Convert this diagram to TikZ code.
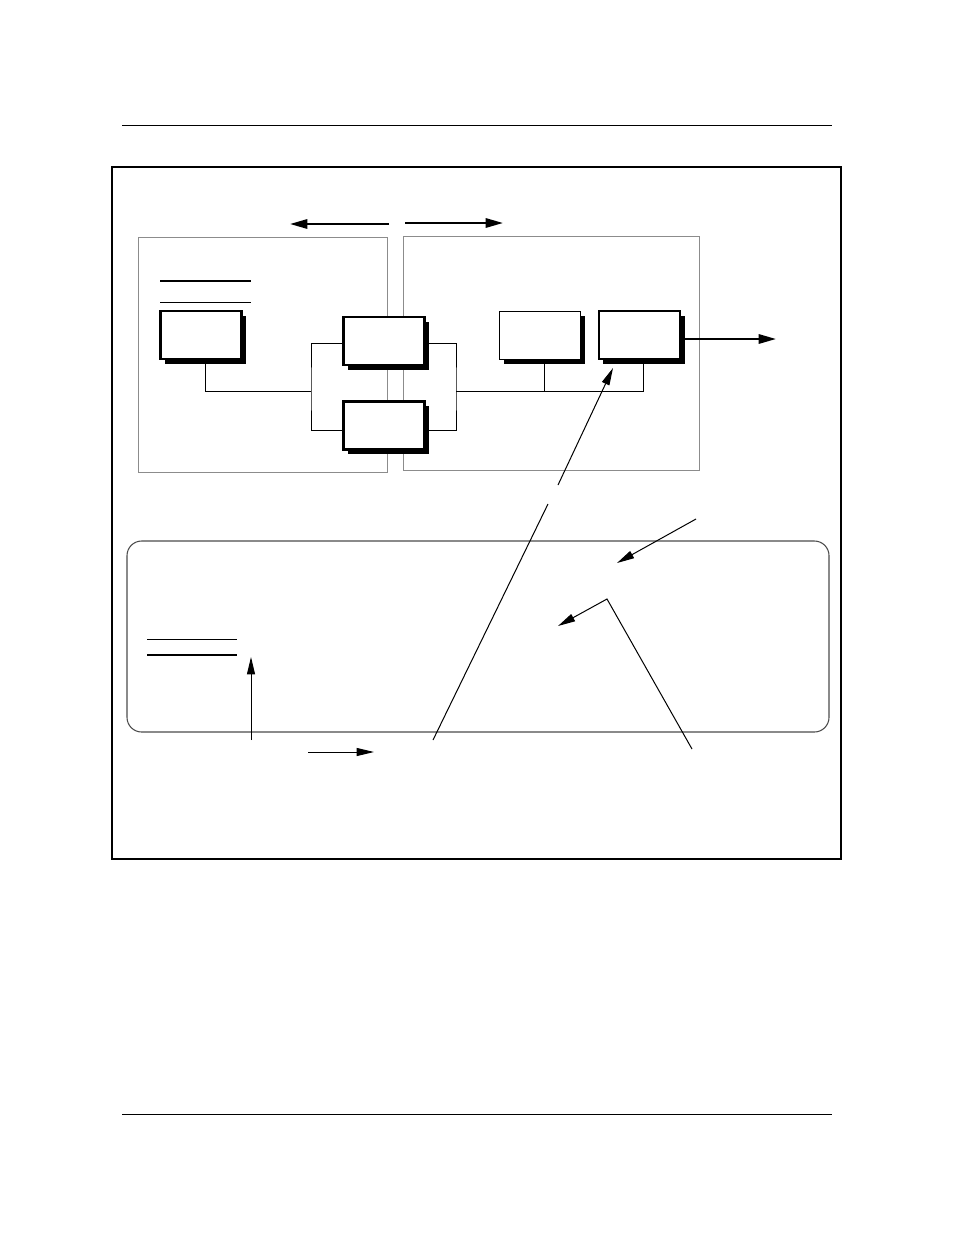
\documentclass[tikz,border=0pt]{standalone}
\usetikzlibrary{arrows.meta,shadows}
\tikzset{
  unitbox/.style={draw, fill=white, line width=2.2pt, minimum width=61pt, minimum height=36pt, inner sep=0pt,
    drop shadow={shadow xshift=3.4pt, shadow yshift=-3.4pt, fill=black, opacity=1}},
  slimbox/.style={unitbox, line width=1.1pt},
  zone/.style={draw=black!45, line width=0.65pt},
  wire/.style={line width=0.75pt},
  bigarrow/.style={line width=1.6pt, -{Triangle[length=13pt,width=7pt]}},
  callout/.style={line width=0.75pt, -{Triangle[length=13pt,width=6pt]}}
}
\begin{document}
\begin{tikzpicture}[x=0.75pt, y=-0.75pt]
	\useasboundingbox (0,0) rectangle (954,1235);
	% page rules
	\draw[wire] (122,125) -- (832,125);
	\draw[wire] (122,1114) -- (832,1114);
	% figure frame
	\draw[line width=1.2pt] (112,167) rectangle (841,859);
	\draw[line width=2.2pt] (112,859) -- (842,859);
	% two zones and direction arrows
	\draw[zone] (138,237) rectangle (387,472);
	\draw[zone] (403,236) rectangle (699,470);
	\coordinate (lt) at (389,224);
	\coordinate (lh) at (290,224);
	\coordinate (rt) at (405,223);
	\coordinate (rh) at (503,223);
	\draw[bigarrow] (lt) -- (lh);
	\draw[bigarrow] (rt) -- (rh);
	\draw[line width=1.6pt] (160,281) -- (251,281);
	\draw[wire] (160,302) -- (251,302);
	% boxes
	\node[unitbox] (A) at (201,335) {};
	\node[unitbox] (B) at (384,341) {};
	\node[unitbox] (C) at (384,425.5) {};
	\node[slimbox] (D) at (540,335.5) {};
	\node[slimbox] (E) at (639.5,335) {};
	% connectors
	\coordinate (lbr) at (311,391);
	\coordinate (rbr) at (456,391);
	\draw[wire] ([xshift=3pt]A.south) |- (lbr);
	\draw[wire] ([yshift=-1.5pt]B.west) -| (lbr) |- ([yshift=-4pt]C.west);
	\draw[wire] ([yshift=-1.5pt]B.east) -| (rbr) |- ([yshift=-4pt]C.east);
	\draw[wire] (rbr) -| ([xshift=3pt]E.south);
	\draw[wire] ([xshift=3.5pt]D.south) -- ([xshift=3.5pt]D.south |- rbr);
	\coordinate (out) at (776,339);
	\draw[bigarrow] (E.east |- out) -- (out);
	% lower panel
	\draw[black!70, line width=0.8pt, rounded corners=11pt] (127,541) rectangle (829,732);
	\draw[wire] (147,639) -- (237,639);
	\draw[line width=1.6pt] (147,655) -- (237,655);
	\coordinate (up0) at (251,740);
	\coordinate (up1) at (251,657);
	\draw[callout] (up0) -- (up1);
	\coordinate (rg0) at (308,752);
	\coordinate (rg1) at (374,752);
	\draw[callout] (rg0) -- (rg1);
	\coordinate (p0) at (558,485);
	\coordinate (p1) at (613,368);
	\draw[callout] (p0) -- (p1);
	\coordinate (q0) at (548,504);
	\coordinate (q1) at (433,740);
	\draw[wire] (q0) -- (q1);
	\coordinate (s0) at (696,519);
	\coordinate (s1) at (617,563);
	\draw[callout] (s0) -- (s1);
	\coordinate (t0) at (692,749);
	\coordinate (t1) at (607,599);
	\coordinate (t2) at (558,626);
	\draw[callout] (t0) -- (t1) -- (t2);
\end{tikzpicture}
\end{document}
